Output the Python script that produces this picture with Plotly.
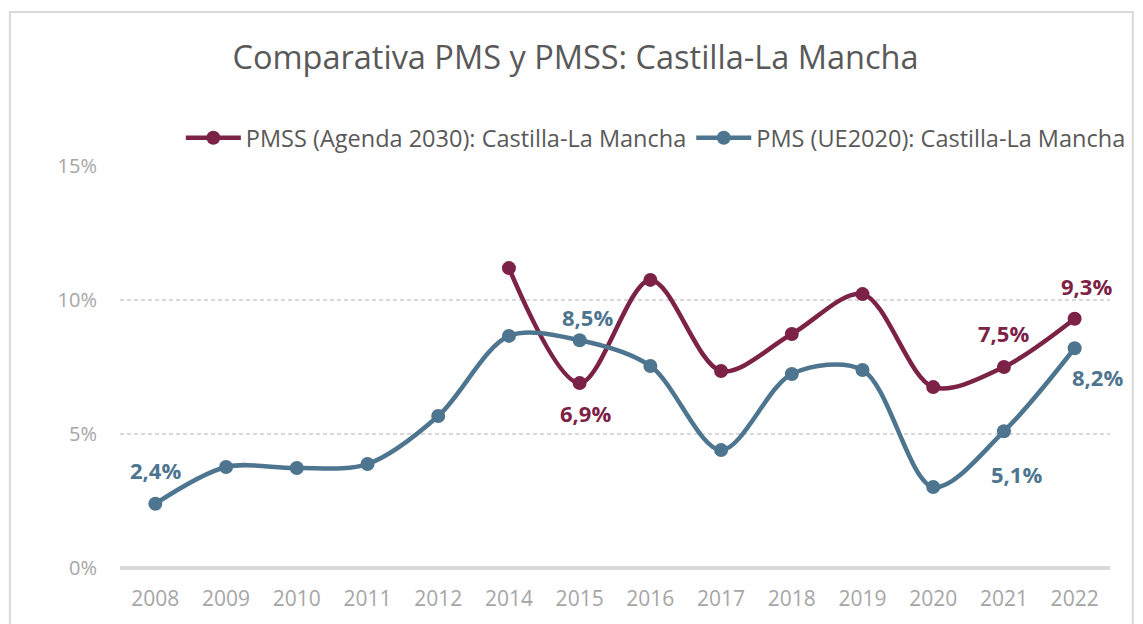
import plotly.graph_objects as go

years = ["2008", "2009", "2010", "2011", "2012", "2014", "2015", "2016",
         "2017", "2018", "2019", "2020", "2021", "2022"]
pms = [2.4, 3.77, 3.73, 3.88, 5.67, 8.66, 8.5, 7.54, 4.40, 7.24, 7.39, 3.02, 5.1, 8.2]
pmss = [None, None, None, None, None, 11.19, 6.9, 10.75, 7.35, 8.73, 10.22, 6.75, 7.5, 9.3]
y_ticks = [0, 5, 10, 15]
y_tick_labels = ["0%", "5%", "10%", "15%"]

name_pmss = "PMSS (Agenda 2030): Castilla-La Mancha"
name_pms = "PMS (UE2020): Castilla-La Mancha"
title = "Comparativa PMS y PMSS: Castilla-La Mancha"

RED = "#7C2246"
BLUE = "#4E758F"
FONT = "Open Sans"

W, H = 1135, 616
L, R, T, B = 112, 25, 158, 56
PW, PH = W - L - R, H - T - B

xi = list(range(len(years)))

# labelled points: year -> (xshift, yshift)
pms_labels = {"2008": (0, 34), "2015": (8, 23), "2021": (13, -43), "2022": (23, -29)}
pmss_labels = {"2015": (6, -30), "2021": (0, 34), "2022": (12, 33)}

fig = go.Figure()
fig.add_trace(go.Scatter(
    x=xi, y=pmss, name=name_pmss, mode="lines+markers",
    line=dict(color=RED, width=4.5, shape="spline", smoothing=0.9),
    marker=dict(size=14, color=RED), connectgaps=False))
fig.add_trace(go.Scatter(
    x=xi, y=pms, name=name_pms, mode="lines+markers",
    line=dict(color=BLUE, width=4.5, shape="spline", smoothing=0.9),
    marker=dict(size=14, color=BLUE)))

def fmt(v):
    return f"{v:.1f}".replace(".", ",") + "%"

for yr, (dx, dy) in pms_labels.items():
    i = years.index(yr)
    fig.add_annotation(x=i, y=pms[i], text="<b>" + fmt(pms[i]) + "</b>", showarrow=False,
                       xshift=dx, yshift=dy, font=dict(color=BLUE, size=22, family=FONT))
for yr, (dx, dy) in pmss_labels.items():
    i = years.index(yr)
    fig.add_annotation(x=i, y=pmss[i], text="<b>" + fmt(pmss[i]) + "</b>", showarrow=False,
                       xshift=dx, yshift=dy, font=dict(color=RED, size=22, family=FONT))

# chart border
fig.add_shape(type="rect", xref="paper", yref="paper",
              x0=(1 - L) / PW, x1=(1133 - L) / PW, y0=-0.3, y1=1 + (T - 4) / PH,
              line=dict(color="#D9D9D9", width=2), fillcolor="rgba(0,0,0,0)", layer="below")

fig.update_layout(
    width=W, height=H,
    margin=dict(l=L, r=R, t=T, b=B),
    paper_bgcolor="white", plot_bgcolor="white",
    title=dict(text=title, x=0.5, xref="container", xanchor="center",
               y=1 - 50 / H, yanchor="middle",
               font=dict(size=32.5, color="#595959", family=FONT)),
    legend=dict(orientation="h", x=(1131 - L) / PW, xanchor="right", y=1 + (T - 130) / PH,
                yanchor="middle", font=dict(size=23.5, color="#595959", family=FONT),
                itemwidth=55, traceorder="normal", tracegroupgap=0),
    showlegend=True,
    xaxis=dict(range=[-0.5, len(years) - 0.5], tickvals=xi, ticktext=years,
               showgrid=False, showline=False, ticks="",
               tickfont=dict(size=21, color="#A6A6A6", family=FONT), zeroline=False,
               ticklabelstandoff=16),
    yaxis=dict(range=[0, 15], tickvals=y_ticks, ticktext=y_tick_labels,
               showgrid=True, gridcolor="#D9D9D9", griddash="4px,3px", gridwidth=1.5,
               zeroline=True, zerolinecolor="#D9D9D9", zerolinewidth=3.5,
               tickfont=dict(size=20, color="#A6A6A6", family=FONT), ticks="",
               ticklabelstandoff=22),
)

fig.write_html("out.html")
